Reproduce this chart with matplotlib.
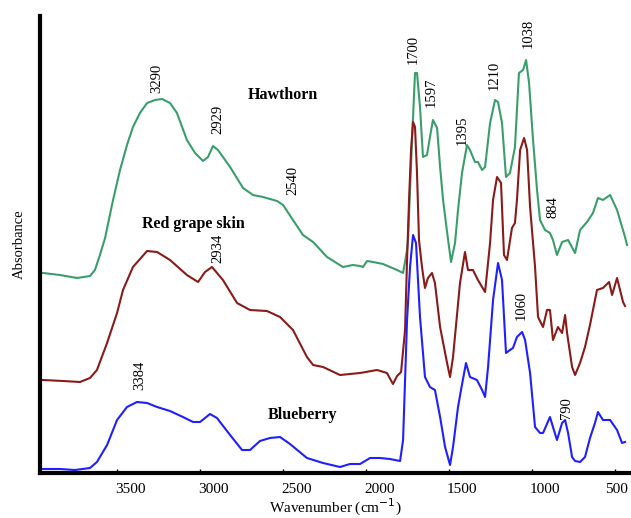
#FTIR spectra - hawthorn, red grape skin, blueberry
import numpy as np
import matplotlib
matplotlib.use("Agg")
import matplotlib.pyplot as plt
import matplotlib.transforms as mtransforms

#(wavenumber cm-1, absorbance arbitrary units, stacked)
hawthorn_wn = [3947, 3845, 3742, 3664, 3634, 3604, 3573, 3525, 3483, 3441, 3405, 3363, 3320, 3272,
               3230, 3182, 3140, 3080, 3031, 2983, 2953, 2923, 2893, 2820, 2742, 2682, 2622, 2537,
               2501, 2441, 2381, 2320, 2236, 2140, 2080, 2037, 2019, 1995, 1959, 1899, 1814, 1778,
               1754, 1748, 1724, 1706, 1694, 1676, 1658, 1634, 1616, 1598, 1573, 1555, 1537, 1513,
               1489, 1465, 1447, 1423, 1393, 1375, 1345, 1327, 1302, 1284, 1254, 1224, 1206, 1182,
               1158, 1134, 1104, 1080, 1055, 1037, 1019, 995, 971, 953, 923, 893, 875, 851, 820,
               784, 742, 712, 670, 634, 604, 574, 531, 489, 441, 429]
hawthorn_abs = [2.00, 1.98, 1.95, 1.97, 2.03, 2.18, 2.35, 2.73, 3.03, 3.28, 3.46, 3.60, 3.70, 3.73,
                3.74, 3.70, 3.60, 3.33, 3.20, 3.12, 3.16, 3.27, 3.23, 3.06, 2.85, 2.78, 2.76, 2.72,
                2.68, 2.53, 2.38, 2.31, 2.16, 2.06, 2.08, 2.07, 2.06, 2.12, 2.11, 2.09, 2.03, 2.00,
                2.23, 2.33, 3.33, 4.00, 4.00, 3.66, 3.16, 3.18, 3.36, 3.53, 3.45, 3.06, 2.73, 2.41,
                2.11, 2.30, 2.63, 3.00, 3.28, 3.23, 3.11, 3.11, 3.03, 3.06, 3.50, 3.73, 3.71, 3.50,
                2.96, 3.00, 3.26, 4.00, 4.03, 4.13, 3.90, 3.33, 2.83, 2.53, 2.43, 2.40, 2.33, 2.18,
                2.31, 2.33, 2.20, 2.43, 2.51, 2.60, 2.75, 2.73, 2.78, 2.63, 2.36, 2.28]

grape_wn = [3947, 3826, 3724, 3664, 3622, 3561, 3501, 3465, 3405, 3320, 3260, 3182, 3080, 3013,
            2971, 2929, 2863, 2778, 2700, 2598, 2519, 2441, 2357, 2320, 2260, 2158, 2037, 1935,
            1875, 1839, 1814, 1790, 1766, 1754, 1742, 1730, 1718, 1706, 1694, 1682, 1664, 1646,
            1628, 1604, 1586, 1555, 1513, 1495, 1477, 1435, 1405, 1387, 1357, 1327, 1284, 1254,
            1236, 1212, 1188, 1170, 1152, 1122, 1104, 1092, 1073, 1049, 1031, 1013, 983, 965,
            935, 911, 893, 875, 845, 820, 802, 790, 760, 742, 712, 682, 652, 610, 574, 537, 519,
            489, 471, 453, 441]
grape_abs = [0.93, 0.92, 0.91, 0.95, 1.03, 1.30, 1.60, 1.83, 2.06, 2.22, 2.21, 2.13, 1.98, 1.91,
             2.01, 2.06, 1.93, 1.70, 1.63, 1.62, 1.56, 1.43, 1.16, 1.08, 1.06, 0.98, 1.00, 1.03,
             1.00, 0.89, 0.97, 1.01, 1.43, 2.13, 2.73, 3.23, 3.51, 3.46, 3.00, 2.33, 2.06, 1.85,
             1.95, 2.00, 1.90, 1.46, 1.10, 0.96, 1.16, 1.90, 2.21, 2.03, 2.03, 1.93, 1.81, 2.30,
             2.73, 2.96, 2.90, 2.18, 2.13, 2.45, 2.50, 2.73, 3.23, 3.35, 3.23, 2.66, 2.06, 1.56,
             1.46, 1.63, 1.63, 1.33, 1.46, 1.40, 1.58, 1.40, 1.06, 0.98, 1.10, 1.26, 1.48, 1.83,
             1.85, 1.91, 1.78, 1.95, 1.83, 1.71, 1.67]

blueberry_wn = [3953, 3845, 3754, 3664, 3622, 3561, 3501, 3441, 3381, 3320, 3260, 3182, 3104, 3043,
                3001, 2941, 2899, 2820, 2748, 2700, 2640, 2580, 2519, 2459, 2357, 2260, 2158, 2098,
                2037, 1977, 1917, 1857, 1796, 1778, 1766, 1754, 1736, 1718, 1700, 1676, 1646, 1616,
                1586, 1555, 1525, 1495, 1477, 1447, 1429, 1399, 1375, 1333, 1302, 1284, 1266, 1236,
                1206, 1182, 1158, 1134, 1116, 1092, 1061, 1043, 1013, 983, 953, 935, 893, 875, 851,
                820, 802, 784, 760, 742, 712, 682, 652, 622, 604, 574, 531, 489, 459, 441]
blueberry_abs = [0.04, 0.04, 0.03, 0.05, 0.11, 0.28, 0.53, 0.66, 0.71, 0.70, 0.66, 0.62, 0.56, 0.51,
                 0.51, 0.59, 0.55, 0.38, 0.23, 0.23, 0.32, 0.35, 0.36, 0.29, 0.15, 0.10, 0.06, 0.09,
                 0.09, 0.15, 0.15, 0.14, 0.12, 0.33, 0.93, 1.53, 2.06, 2.38, 2.30, 1.56, 0.96, 0.86,
                 0.83, 0.56, 0.26, 0.08, 0.26, 0.66, 0.83, 1.10, 0.96, 0.93, 0.83, 0.76, 1.06, 1.73,
                 2.10, 1.93, 1.20, 1.23, 1.25, 1.36, 1.41, 1.33, 1.00, 0.46, 0.40, 0.40, 0.56, 0.46,
                 0.33, 0.50, 0.53, 0.40, 0.16, 0.12, 0.11, 0.16, 0.35, 0.50, 0.61, 0.53, 0.53, 0.43,
                 0.30, 0.31]

#peak labels: text, wavenumber, absorbance
peak_text = ["3290", "2929", "2540", "2934", "3384", "1700", "1597", "1395", "1210", "1038",
             "884", "1060", "790"]
peak_wn = [3260, 2893, 2441, 2893, 3363, 1718, 1610, 1423, 1230, 1025, 875, 1067, 796]
peak_abs = [3.95, 3.54, 2.93, 2.25, 0.98, 4.24, 3.81, 3.43, 3.98, 4.40, 2.66, 1.68, 0.65]

names = ["Hawthorn", "Red grape skin", "Blueberry"]
name_wn = [2501, 3043, 2381]
name_abs = [3.78, 2.49, 0.58]

xticks = [3500, 3000, 2500, 2000, 1500, 1000, 500]

serif = ["Liberation Serif", "DejaVu Serif"]

fig = plt.figure(figsize=(6.31, 5.18), dpi=100)
ax = fig.add_axes([40/631., 1 - 473/518., 1 - 40/631., (473 - 16)/518.])

ax.plot(hawthorn_wn, hawthorn_abs, color="#3a9e6c", lw=1.5)
ax.plot(grape_wn, grape_abs, color="#8b1a1a", lw=1.5)
ax.plot(blueberry_wn, blueberry_abs, color="#1f1fff", lw=1.5)

for t, w, a in zip(peak_text, peak_wn, peak_abs):
    ax.text(w, a, t, rotation=90, ha="center", va="center", fontsize=10.5, family=serif)

for t, w, a in zip(names, name_wn, name_abs):
    ax.text(w, a, t, ha="center", va="center", fontsize=11.5, fontweight="bold", family=serif)

ax.set_xlim(3965, 405)
ax.set_ylim(0, 4.57)
ax.set_yticks([])
ax.set_xticks(xticks)
ax.set_xticklabels([str(v) for v in xticks], family=serif, fontsize=11)
ax.tick_params(axis="x", direction="in", length=3, width=1, pad=7)
#labels sit a bit right of the tick marks in the original (last one kept inside the canvas)
labs = ax.get_xticklabels()
for lab in labs[:-1]:
    lab.set_transform(lab.get_transform() + mtransforms.ScaledTranslation(0.13, 0, fig.dpi_scale_trans))
labs[-1].set_transform(labs[-1].get_transform() + mtransforms.ScaledTranslation(0.01, 0, fig.dpi_scale_trans))

ax.spines["top"].set_visible(False)
ax.spines["right"].set_visible(False)
ax.spines["left"].set_linewidth(3)
ax.spines["bottom"].set_linewidth(3)

ax.set_xlabel("Wavenumber (cm$^{-1}$)", family=serif, fontsize=11, labelpad=1)
ax.set_ylabel("Absorbance", family=serif, fontsize=10.5, labelpad=10)

fig.savefig("out.png", dpi=100)
